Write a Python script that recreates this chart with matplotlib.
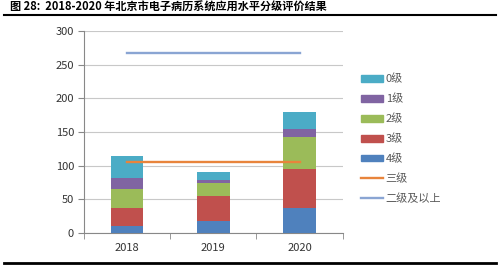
import matplotlib
matplotlib.use('Agg')
import matplotlib.pyplot as plt
from matplotlib.patches import Patch
from matplotlib.lines import Line2D
import numpy as np

plt.rcParams['font.family'] = ['Noto Sans CJK SC', 'DejaVu Sans']

years = ['2018', '2019', '2020']
level4 = [11, 17, 37]
level3 = [26, 38, 58]
level2 = [29, 19, 48]
level1 = [16, 5, 12]
level0 = [32, 11, 24]
line_三级 = [105, 105, 105]
line_二级及以上 = [267, 267, 267]

title = '图 28:  2018-2020 年北京市电子病历系统应用水平分级评价结果'

colors = {'4级': '#4F81BD', '3级': '#C0504D', '2级': '#9BBB59',
          '1级': '#8064A2', '0级': '#4BACC6'}

fig = plt.figure(figsize=(4.99, 2.65), dpi=100)
ax = fig.add_axes([0.168, 0.121, 0.519, 0.762])

x = np.arange(len(years))
w = 0.38
bottom = np.zeros(len(years))
for name, vals in [('4级', level4), ('3级', level3), ('2级', level2),
                   ('1级', level1), ('0级', level0)]:
    ax.bar(x, vals, w, bottom=bottom, color=colors[name], zorder=3)
    bottom += np.array(vals)

ax.plot(x, line_三级, color='#E8843C', lw=1.7, zorder=4)
ax.plot(x, line_二级及以上, color='#8AA5D3', lw=1.7, zorder=4)

ax.set_xlim(-0.5, 2.5)
ax.set_ylim(0, 300)
ax.set_yticks(range(0, 301, 50))
ax.set_xticks(x)
ax.set_xticklabels(years)
ax.set_xticks([-0.5, 0.5, 1.5, 2.5], minor=True)
ax.tick_params(axis='x', which='major', length=0, pad=7, labelsize=8, labelcolor='#333333')
ax.tick_params(axis='x', which='minor', length=4, color='#888888')
ax.tick_params(axis='y', length=4, color='#888888', labelsize=8, labelcolor='#333333', pad=3)
ax.yaxis.grid(True, color='#C8C8C8', lw=0.8, zorder=0)
for s in ['top', 'right']:
    ax.spines[s].set_visible(False)
ax.spines['left'].set_color('#888888')
ax.spines['bottom'].set_color('#888888')

handles = [Patch(color=colors[n]) for n in ['0级', '1级', '2级', '3级', '4级']]
handles += [Line2D([], [], color='#E8843C', lw=1.7), Line2D([], [], color='#8AA5D3', lw=1.7)]
labels = ['0级', '1级', '2级', '3级', '4级', '三级', '二级及以上']
leg = fig.legend(handles, labels, loc='upper left', bbox_to_anchor=(0.715, 0.738),
                 frameon=False, fontsize=8, handlelength=2.0, handleheight=0.55,
                 labelspacing=0.85, handletextpad=0.2, borderaxespad=0)
for t in leg.get_texts():
    t.set_color('#595959')

fig.text(0.02, 0.972, title, fontsize=8, fontweight='bold', va='center', ha='left')
fig.add_artist(Line2D([0.008, 0.994], [0.942, 0.942], color='black', lw=1.5))
fig.add_artist(Line2D([0.008, 0.994], [0.008, 0.008], color='black', lw=2))

fig.savefig('out.png', dpi=100)
